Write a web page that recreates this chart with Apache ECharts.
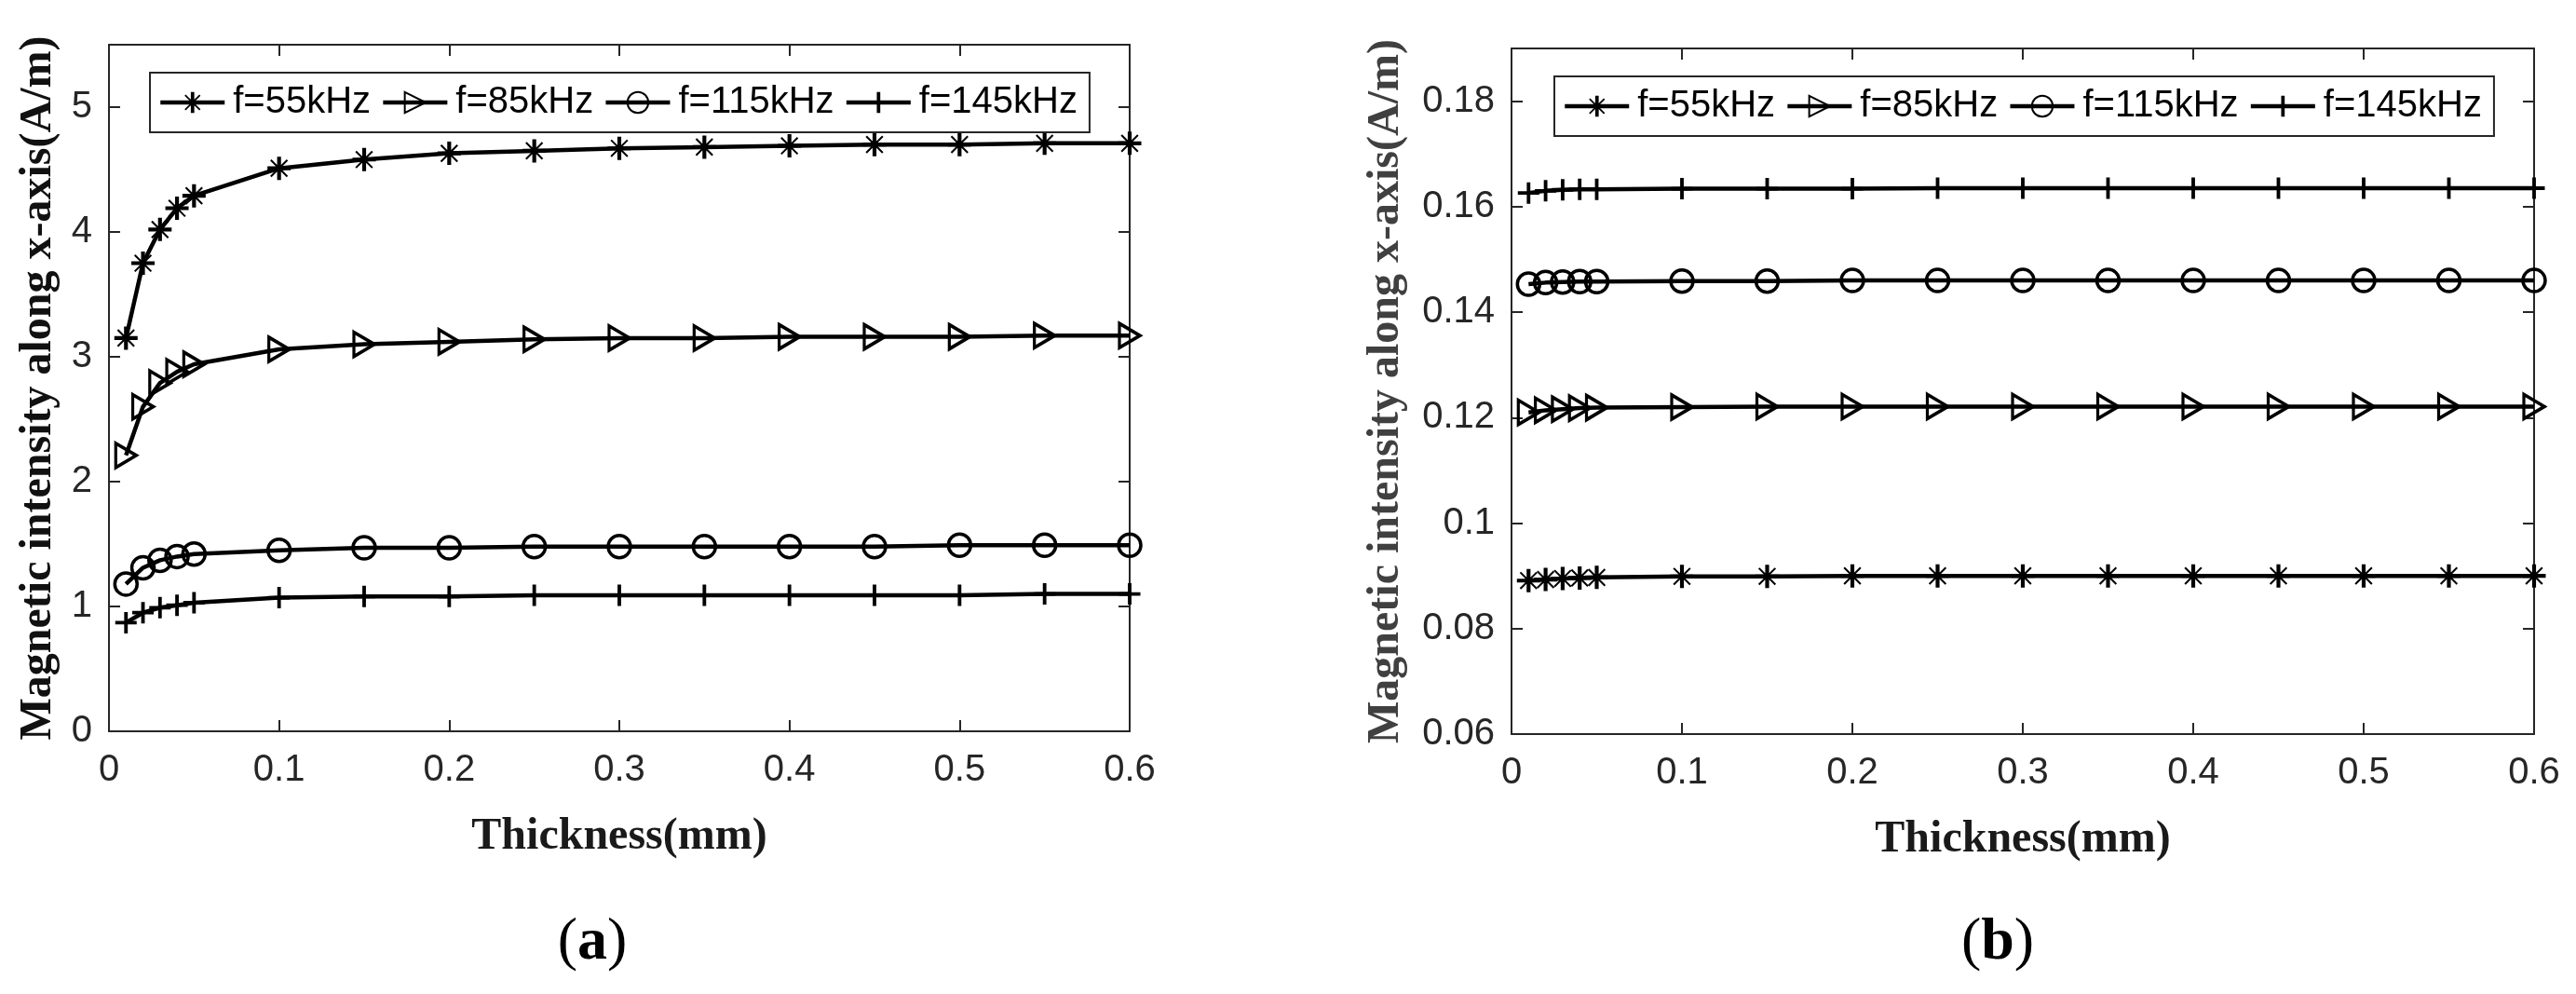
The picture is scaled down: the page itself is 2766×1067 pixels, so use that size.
<!DOCTYPE html>
<html>
<head>
<meta charset="utf-8">
<script src="https://cdn.jsdelivr.net/npm/echarts@6/dist/echarts.min.js"></script>
<style>
  html, body { margin: 0; padding: 0; background: #fff; }
  #main { width: 2766px; height: 1067px; }
</style>
</head>
<body>
<div id="main"></div>
<script>
// thickness (mm), same sample points for every curve
var thickness = [0.01, 0.02, 0.03, 0.04, 0.05, 0.1, 0.15, 0.2, 0.25, 0.3, 0.35, 0.4, 0.45, 0.5, 0.55, 0.6];
var names = ['f=55kHz', 'f=85kHz', 'f=115kHz', 'f=145kHz'];

// panel (a)
var a55  = [3.15, 3.75, 4.02, 4.19, 4.29, 4.51, 4.58, 4.63, 4.65, 4.67, 4.68, 4.69, 4.70, 4.70, 4.71, 4.71];
var a85  = [2.21, 2.60, 2.79, 2.88, 2.94, 3.06, 3.10, 3.12, 3.14, 3.15, 3.15, 3.16, 3.16, 3.16, 3.17, 3.17];
var a115 = [1.18, 1.31, 1.37, 1.40, 1.42, 1.45, 1.47, 1.47, 1.48, 1.48, 1.48, 1.48, 1.48, 1.49, 1.49, 1.49];
var a145 = [0.87, 0.95, 0.99, 1.01, 1.03, 1.07, 1.08, 1.08, 1.09, 1.09, 1.09, 1.09, 1.09, 1.09, 1.10, 1.10];

// panel (b)
var b55  = [0.0891, 0.0893, 0.0895, 0.0896, 0.0897, 0.0899, 0.0899, 0.0900, 0.0900, 0.0900, 0.0900, 0.0900, 0.0900, 0.0900, 0.0900, 0.0900];
var b85  = [0.1210, 0.1214, 0.1216, 0.1218, 0.1219, 0.1220, 0.1221, 0.1221, 0.1221, 0.1221, 0.1221, 0.1221, 0.1221, 0.1221, 0.1221, 0.1221];
var b115 = [0.1453, 0.1456, 0.1457, 0.1458, 0.1458, 0.1459, 0.1459, 0.1460, 0.1460, 0.1460, 0.1460, 0.1460, 0.1460, 0.1460, 0.1460, 0.1460];
var b145 = [0.1626, 0.1630, 0.1632, 0.1633, 0.1633, 0.1634, 0.1634, 0.1634, 0.1635, 0.1635, 0.1635, 0.1635, 0.1635, 0.1635, 0.1635, 0.1635];

// tick values
var xTicks  = [0, 0.1, 0.2, 0.3, 0.4, 0.5, 0.6];
var aYTicks = [0, 1, 2, 3, 4, 5];
var bYTicks = [0.06, 0.08, 0.1, 0.12, 0.14, 0.16, 0.18];
var aYMax = 5.5, bYMax = 0.19;

var yTitle = 'Magnetic intensity along x-axis(A/m)';
var xTitle = 'Thickness(mm)';

var ink = '#262626';
// matlab-ish markers: asterisk, right triangle, circle, plus
var starPath = 'path://M10 0L14 0L14 24L10 24Z M0 10L24 10L24 14L0 14Z M4.2 2.8L21.2 19.8L19.8 21.2L2.8 4.2Z M21.2 4.2L4.2 21.2L2.8 19.8L19.8 2.8Z';
var plusPath = 'path://M10 0L14 0L14 24L10 24Z M0 10L24 10L24 14L0 14Z';
var triPath  = 'path://M0 0L21 12L0 24Z';

var marks = [
  { symbol: starPath, size: 25, itemStyle: { color: '#000', borderWidth: 0 } },
  { symbol: triPath, size: [22, 26], itemStyle: { color: 'rgba(0,0,0,0)', borderColor: '#000', borderWidth: 3.5 } },
  { symbol: 'circle', size: 24, itemStyle: { color: 'rgba(0,0,0,0)', borderColor: '#000', borderWidth: 3.5 } },
  { symbol: plusPath, size: 23, itemStyle: { color: '#000', borderWidth: 0 } }
];

function pairs(ys) {
  return thickness.map(function (x, i) { return [x, ys[i]]; });
}

function makeSeries(k, ys, g) {
  return {
    name: names[k],
    type: 'line',
    xAxisIndex: g * 2,
    yAxisIndex: g * 2,
    data: pairs(ys),
    symbol: marks[k].symbol,
    symbolSize: marks[k].size,
    showAllSymbol: true,
    lineStyle: { color: '#000', width: 4.5 },
    itemStyle: marks[k].itemStyle,
    emphasis: { disabled: true },
    z: 3
  };
}

var tickFont = { fontFamily: 'Liberation Sans', fontSize: 40, color: ink };

// strip float noise, 0.18000000000000005 -> 0.18
function tidy(v) {
  return String(parseFloat(v.toFixed(4)));
}

function xAx(g, top) {
  return {
    type: 'value', gridIndex: g, position: top ? 'top' : 'bottom',
    min: xTicks[0], max: xTicks[xTicks.length - 1], interval: xTicks[1] - xTicks[0],
    name: top ? '' : xTitle, nameLocation: 'middle', nameGap: 90,
    nameTextStyle: { fontFamily: 'Liberation Serif', fontWeight: 'bold', fontSize: 48, color: '#1a1a1a' },
    axisLine: { show: true, onZero: false, lineStyle: { color: ink, width: 2 } },
    axisTick: { show: true, inside: true, length: 12, lineStyle: { color: ink, width: 2 } },
    axisLabel: top ? { show: false } : Object.assign({ margin: 22, formatter: tidy }, tickFont),
    splitLine: { show: false }
  };
}

function yAx(g, right, ticks, max, nameGap, nameColor) {
  return {
    type: 'value', gridIndex: g, position: right ? 'right' : 'left',
    min: ticks[0], max: max, interval: ticks[1] - ticks[0],
    name: right ? '' : yTitle, nameLocation: 'middle', nameGap: nameGap,
    nameTextStyle: { fontFamily: 'Liberation Serif', fontWeight: 'bold', fontSize: 48, color: nameColor },
    axisLine: { show: true, onZero: false, lineStyle: { color: ink, width: 2 } },
    axisTick: { show: true, inside: true, length: 12, lineStyle: { color: ink, width: 2 } },
    axisLabel: right ? { show: false } : Object.assign({ margin: 18, showMaxLabel: false, formatter: tidy }, tickFont),
    splitLine: { show: false }
  };
}

function legendAt(left, top) {
  return {
    data: names, left: left, top: top, orient: 'horizontal',
    itemWidth: 69, itemHeight: 28, itemGap: 11,
    padding: [12, 13, 12, 9],
    borderColor: ink, borderWidth: 2, backgroundColor: '#fff',
    lineStyle: { color: '#000', width: 4.5 },
    textStyle: { fontFamily: 'Liberation Sans', fontSize: 40, color: '#000', padding: [0, 0, 0, 4] },
    selectedMode: false
  };
}

function caption(x, letter) {
  return {
    type: 'text', x: x, y: 1012,
    style: {
      text: '{p|(}{b|' + letter + '}{p|)}',
      align: 'center', verticalAlign: 'middle',
      rich: {
        p: { fontFamily: 'Liberation Serif', fontSize: 64, fill: '#000' },
        b: { fontFamily: 'Liberation Serif', fontSize: 64, fontWeight: 'bold', fill: '#000' }
      }
    }
  };
}

var chart = echarts.init(document.getElementById('main'));
chart.setOption({
  backgroundColor: '#fff',
  animation: false,
  grid: [
    { left: 117, top: 48, width: 1096, height: 737 },
    { left: 1623, top: 52, width: 1098, height: 736 }
  ],
  xAxis: [xAx(0, false), xAx(0, true), xAx(1, false), xAx(1, true)],
  yAxis: [
    yAx(0, false, aYTicks, aYMax, 51, '#111'),
    yAx(0, true, aYTicks, aYMax, 51, '#111'),
    yAx(1, false, bYTicks, bYMax, 110, '#404040'),
    yAx(1, true, bYTicks, bYMax, 110, '#404040')
  ],
  legend: [legendAt(161, 78), legendAt(1669, 82)],
  series: [
    makeSeries(0, a55, 0), makeSeries(1, a85, 0), makeSeries(2, a115, 0), makeSeries(3, a145, 0),
    makeSeries(0, b55, 1), makeSeries(1, b85, 1), makeSeries(2, b115, 1), makeSeries(3, b145, 1)
  ],
  graphic: [caption(636, 'a'), caption(2145, 'b')]
});
</script>
</body>
</html>
